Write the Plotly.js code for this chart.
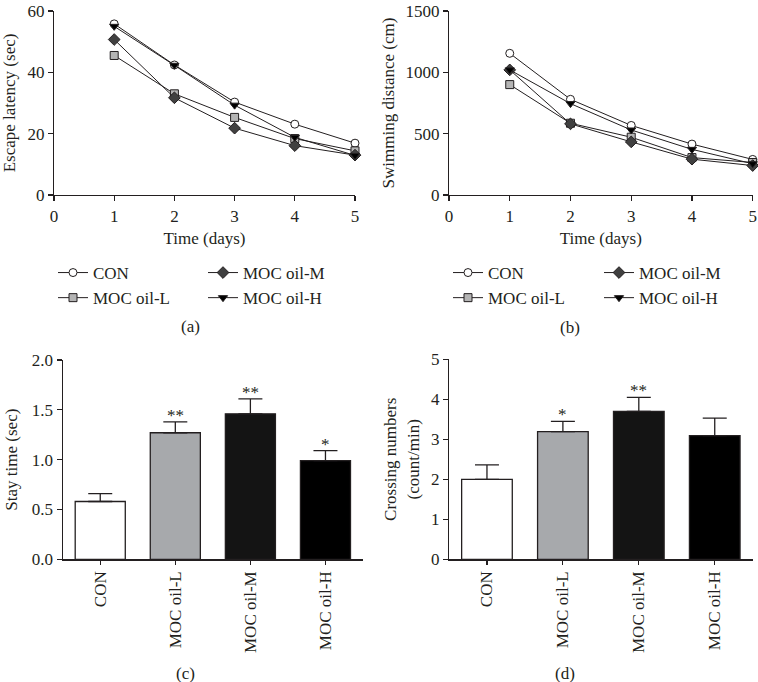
<!DOCTYPE html>
<html>
<head>
<meta charset="utf-8">
<script src="https://cdn.plot.ly/plotly-3.0.1.min.js"></script>
<style>html,body{margin:0;padding:0;background:#fff;}#chart{width:758px;height:682px;}</style>
</head>
<body>
<div id="chart"></div>
<script>
// ---- data ----
const days = [1, 2, 3, 4, 5];
const groups = ["CON", "MOC oil-L", "MOC oil-M", "MOC oil-H"];

// (a) escape latency (sec)
const latencyCON = [55.8, 42.4, 30.3, 23.1, 16.9];
const latencyL   = [45.5, 33.0, 25.3, 18.4, 14.4];
const latencyM   = [50.7, 31.7, 21.8, 16.1, 13.0];
const latencyH   = [55.0, 42.3, 29.3, 18.8, 12.9];

// (b) swimming distance (cm)
const distCON = [1155, 780, 567, 415, 290];
const distL   = [900, 585, 471, 305, 265];
const distM   = [1020, 580, 433, 292, 240];
const distH   = [1020, 745, 530, 372, 255];

// (c) stay time (sec)
const stayMean = [0.58, 1.27, 1.46, 0.99];
const stayErr  = [0.08, 0.11, 0.15, 0.10];
const staySig  = ["", "**", "**", "*"];

// (d) crossing numbers (count/min)
const crossMean = [2.0, 3.19, 3.70, 3.09];
const crossErr  = [0.36, 0.26, 0.35, 0.44];
const crossSig  = ["", "*", "**", ""];

const zeroMinus = [0, 0, 0, 0];

// ---- styles ----
const FONT = "Liberation Serif, Times New Roman, serif";
const FS = 17;
const INK = "#231f20";
const styles = [
  {symbol: "circle", color: "#ffffff"},
  {symbol: "square", color: "#b4b4b4"},
  {symbol: "diamond", color: "#404040"},
  {symbol: "triangle-down", color: "#000000"}
];
const barColors = ["#ffffff", "#a7a9ac", "#141414", "#000000"];

function lineTrace(y, i, xa, ya, legendId, show) {
  return {
    type: "scatter", mode: "lines+markers",
    x: days, y: y, xaxis: xa, yaxis: ya,
    name: groups[i], legend: legendId, legendgroup: legendId + "g" + i,
    showlegend: show, cliponaxis: false,
    line: {color: INK, width: 1},
    marker: {symbol: styles[i].symbol, size: i === 2 ? 9 : 8, color: styles[i].color,
             line: {color: INK, width: 1}}
  };
}

const latency = [latencyCON, latencyL, latencyM, latencyH];
const dist = [distCON, distL, distM, distH];
const colLegA = ["legend", "legend", "legend2", "legend2"];
const colLegB = ["legend3", "legend3", "legend4", "legend4"];

const traces = [];
latency.forEach((y, i) => traces.push(lineTrace(y, i, "x", "y", colLegA[i], true)));
dist.forEach((y, i) => traces.push(lineTrace(y, i, "x2", "y2", colLegB[i], true)));

traces.push({
  type: "bar", x: groups, y: stayMean, xaxis: "x3", yaxis: "y3", showlegend: false,
  marker: {color: barColors, line: {color: INK, width: 1.3}},
  error_y: {type: "data", symmetric: false, array: stayErr, arrayminus: zeroMinus,
            color: INK, thickness: 1.3, width: 12}
});
traces.push({
  type: "bar", x: groups, y: crossMean, xaxis: "x4", yaxis: "y4", showlegend: false,
  marker: {color: barColors, line: {color: INK, width: 1.3}},
  error_y: {type: "data", symmetric: false, array: crossErr, arrayminus: zeroMinus,
            color: INK, thickness: 1.3, width: 12}
});

const W = 758, H = 682;
const px = v => v / W;
const py = v => 1 - v / H;

const tf = {family: FONT, size: FS, color: INK};
const axBase = {
  showline: true, linecolor: INK, linewidth: 1.2, ticks: "outside", ticklen: 5,
  tickwidth: 1.2, tickcolor: INK, showgrid: false, zeroline: false,
  ticklabeloverflow: "allow", tickfont: tf
};

function legendAt(x, y) {
  return {x: px(x), y: py(y), xanchor: "left", yanchor: "top", orientation: "v",
          traceorder: "grouped", tracegroupgap: 0, bgcolor: "rgba(0,0,0,0)",
          font: tf, itemwidth: 30};
}

const annotations = [];
groups.forEach((g, i) => {
  if (staySig[i]) annotations.push({xref: "x3", yref: "y3", x: g, y: stayMean[i] + stayErr[i],
    text: staySig[i], showarrow: false, yanchor: "bottom", yshift: -5, font: tf});
  if (crossSig[i]) annotations.push({xref: "x4", yref: "y4", x: g, y: crossMean[i] + crossErr[i],
    text: crossSig[i], showarrow: false, yanchor: "bottom", yshift: -5, font: tf});
});
[["(a)", 190, 326], ["(b)", 570, 327], ["(c)", 185, 673], ["(d)", 565, 673]].forEach(p => {
  annotations.push({xref: "paper", yref: "paper", x: px(p[1]), y: py(p[2]), text: p[0],
    showarrow: false, xanchor: "center", yanchor: "middle", font: tf});
});

const layout = {
  width: W, height: H, margin: {l: 0, r: 0, t: 0, b: 0},
  paper_bgcolor: "#ffffff", plot_bgcolor: "#ffffff",
  font: tf,
  bargap: 0.333,
  xaxis: Object.assign({}, axBase, {domain: [px(54), px(355)], anchor: "y", range: [0, 5], dtick: 1,
    title: {text: "Time (days)", standoff: 7, font: tf}}),
  yaxis: Object.assign({}, axBase, {domain: [py(195), py(11)], anchor: "x", range: [0, 60], dtick: 20,
    title: {text: "Escape latency (sec)", standoff: 7, font: tf}}),
  xaxis2: Object.assign({}, axBase, {domain: [px(449), px(752.7)], anchor: "y2", range: [0, 5], dtick: 1,
    title: {text: "Time (days)", standoff: 7, font: tf}}),
  yaxis2: Object.assign({}, axBase, {domain: [py(195), py(11)], anchor: "x2", range: [0, 1500], dtick: 500,
    title: {text: "Swimming distance (cm)", standoff: 6, font: tf}}),
  xaxis3: Object.assign({}, axBase, {domain: [px(62.7), px(363)], anchor: "y3", type: "category",
    range: [-0.5, 3.5], tickangle: -90, ticklen: 4}),
  yaxis3: Object.assign({}, axBase, {domain: [py(559.3), py(360)], anchor: "x3", range: [0, 2], dtick: 0.5,
    tickformat: ".1f",
    title: {text: "Stay time (sec)", standoff: 9, font: tf}}),
  xaxis4: Object.assign({}, axBase, {domain: [px(449), px(752.7)], anchor: "y4", type: "category",
    range: [-0.5, 3.5], tickangle: -90, ticklen: 4}),
  yaxis4: Object.assign({}, axBase, {domain: [py(559.3), py(359.3)], anchor: "x4", range: [0, 5], dtick: 1,
    title: {text: "Crossing numbers<br>(count/min)", standoff: 7, font: tf}}),
  legend: legendAt(53, 255),
  legend2: legendAt(203, 255),
  legend3: legendAt(448, 255),
  legend4: legendAt(599, 255),
  annotations: annotations
};

Plotly.newPlot("chart", traces, layout, {displayModeBar: false, staticPlot: true});
</script>
</body>
</html>
